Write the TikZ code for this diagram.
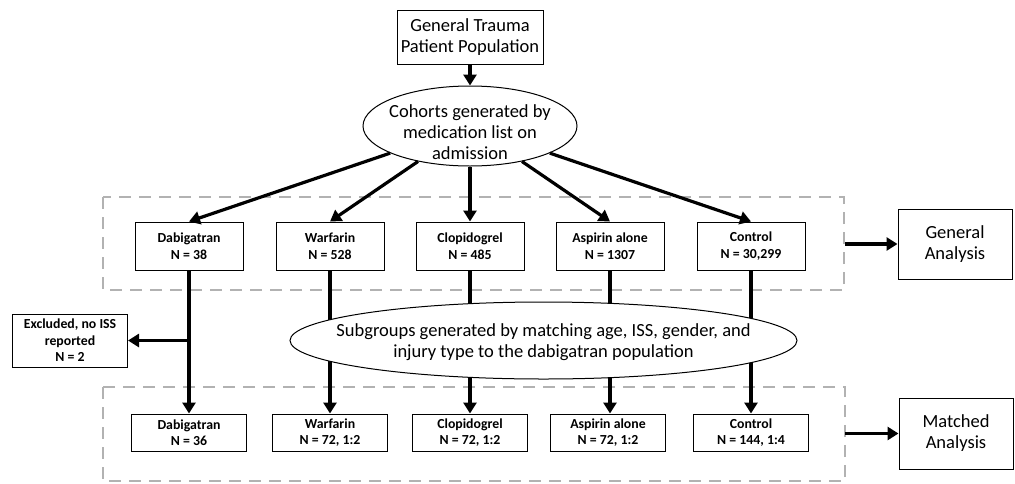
\documentclass[tikz,border=0pt]{standalone}
\usepackage{fontspec}
\setmainfont{Carlito}
\usetikzlibrary{shapes.geometric,arrows.meta}
\begin{document}
\begin{tikzpicture}[x=1pt,y=-1pt,
  bigtxt/.style={font=\fontsize{18.5}{21}\selectfont},
  smalltxt/.style={font=\bfseries\fontsize{13.8}{16.5}\selectfont},
  plainbox/.style={draw, line width=1pt, fill=white, align=center, inner sep=0pt},
  rowone/.style={plainbox, smalltxt, minimum width=108pt, minimum height=48pt},
  rowtwo/.style={plainbox, smalltxt, minimum width=115pt, minimum height=37pt},
  anbox/.style={plainbox, bigtxt, minimum width=114pt, minimum height=70pt},
  oval/.style={draw, line width=1pt, fill=white, ellipse, inner sep=0pt},
  arr/.style={line width=3.2pt, -{Triangle[length=11pt,width=13pt]}},
  groupbox/.style={draw=black!30, line width=2.2pt, dash pattern=on 12pt off 8pt}
]
\useasboundingbox (0,0) rectangle (1015,483);

% dashed group frames
\draw[groupbox] (103,197) rectangle (844,290);
\draw[groupbox] (103,387) rectangle (845,481);

% top box and first ellipse
\node[plainbox, bigtxt, minimum width=146pt, minimum height=54pt] (pop) at (470,37) {General Trauma\\Patient Population};
\node[oval, minimum width=214pt, minimum height=80pt] (coh) at (470,126) {};
\node[bigtxt, align=center] (cohtxt) at (470,132) {Cohorts generated by\\medication list on\\admission};

% first row
\node[rowone] (d1) at (189,246) {Dabigatran\\N = 38};
\node[rowone] (w1) at (330,246) {Warfarin\\N = 528};
\node[rowone] (c1) at (470,246) {Clopidogrel\\N = 485};
\node[rowone] (a1) at (610,246) {Aspirin alone\\N = 1307};
\node[rowone] (k1) at (751,246) {Control\\N = 30,299};

% second row
\node[rowtwo] (d2) at (189,432.5) {Dabigatran\\N = 36};
\node[rowtwo] (w2) at (330,432.5) {Warfarin\\N = 72, 1:2};
\node[rowtwo] (c2) at (470,432.5) {Clopidogrel\\N = 72, 1:2};
\node[rowtwo] (a2) at (608,432.5) {Aspirin alone\\N = 72, 1:2};
\node[rowtwo] (k2) at (751,432.5) {Control\\N = 144, 1:4};

% excluded
\node[plainbox, smalltxt, minimum width=115pt, minimum height=53pt] (ex) at (70,340.5) {Excluded, no ISS\\reported\\N = 2};

% analysis boxes
\node[anbox] (ga) at (955,244) {General\\Analysis};
\node[anbox, minimum height=71pt] (ma) at (956,433.5) {Matched\\Analysis};

% arrows top
\draw[arr] (pop) -- (coh);
\draw[arr] (coh) -- (d1.north);
\draw[arr] (coh) -- (w1.north);
\draw[arr] (coh) -- (c1.north);
\draw[arr] (coh) -- (a1.north);
\draw[arr] (coh) -- (k1.north);

% vertical arrows row1 -> row2
\draw[arr] (d1) -- (d2);
\draw[arr] (w1) -- (w2);
\draw[arr] (c1) -- (c2);
\draw[arr] (a1) -- (a1 |- a2.north);
\draw[arr] (k1) -- (k2);

% excluded branch
\coordinate (jx) at (d1 |- ex.east);
\draw[arr] (jx) -- (ex.east);

% analysis arrows
\coordinate (g0) at (845,244);
\coordinate (m0) at (845,433.5);
\draw[arr] (g0) -- (ga.west);
\draw[arr] (m0) -- (ma.west);

% second ellipse over the lines
\node[oval, minimum width=507pt, minimum height=77pt] (sub) at (543.5,340.5) {};
\node[bigtxt, align=center] (subtxt) at (543.5,342) {Subgroups generated by matching age, ISS, gender, and\\injury type to the dabigatran population};
\end{tikzpicture}
\end{document}
